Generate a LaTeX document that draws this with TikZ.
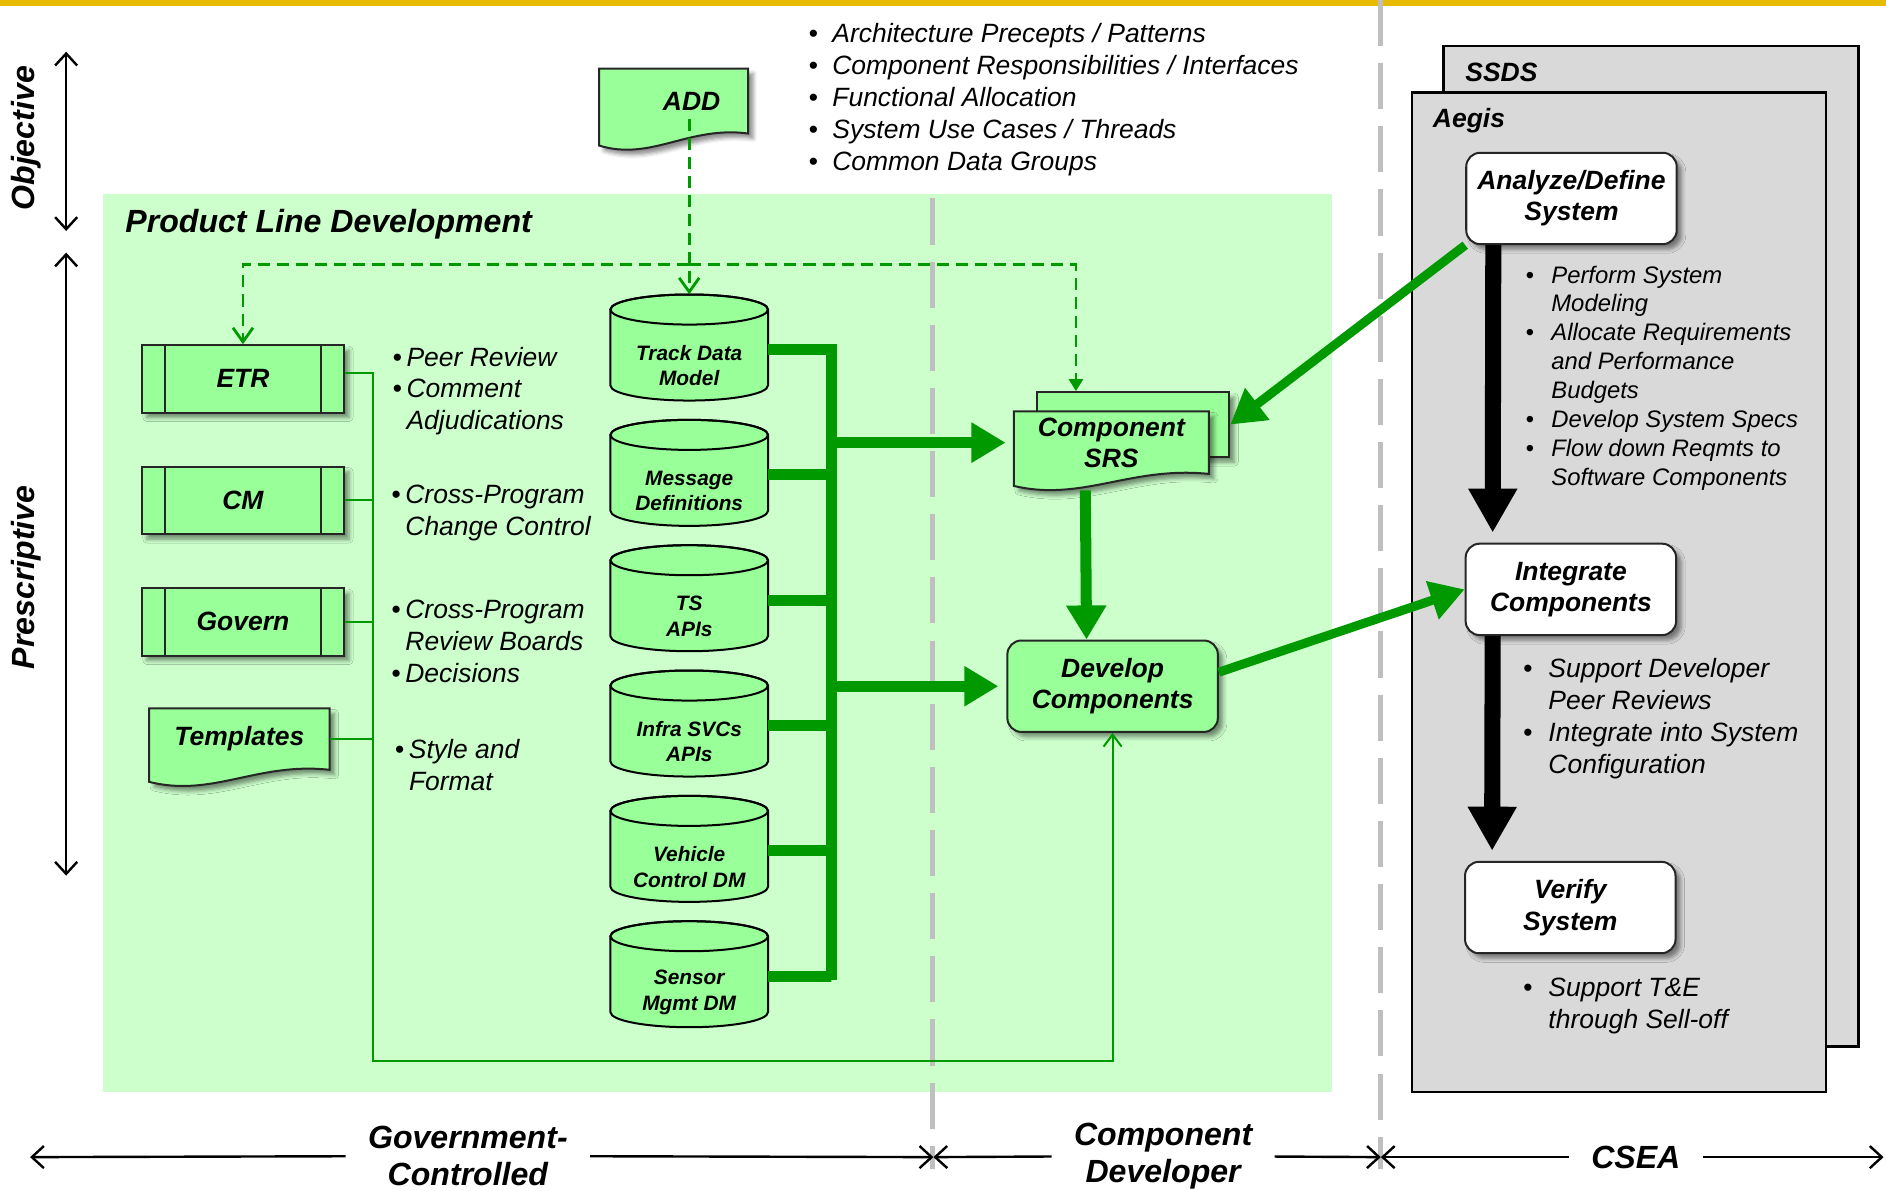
\documentclass[tikz,border=0pt]{standalone}
\usepackage{fontspec}
\setmainfont{Liberation Sans}
\usetikzlibrary{arrows.meta,calc,shadows.blur}

\definecolor{panelgreen}{HTML}{CCFFCC}
\definecolor{nodegreen}{HTML}{99FF99}
\definecolor{linkgreen}{HTML}{009900}
\definecolor{panelgray}{HTML}{D9D9D9}
\definecolor{divgray}{HTML}{BFBFBF}
\definecolor{baryellow}{HTML}{E6BB00}

\newcommand{\boxfont}{\fontsize{13.2}{15.6}\selectfont\bfseries\itshape}
\newcommand{\drumfont}{\fontsize{10.4}{12.6}\selectfont\bfseries\itshape}
\newcommand{\notefont}{\fontsize{13.2}{15.9}\selectfont\itshape}
\newcommand{\smallnotefont}{\fontsize{11.9}{14.4}\selectfont\itshape}
\newcommand{\headfont}{\fontsize{16}{18.6}\selectfont\bfseries\itshape}

% document outline with a wavy foot: left, top, right, foot at the right
\newcommand{\docshape}[4]{%
  \filldraw[docline] (#1,#2) -- (#3,#2) -- (#3,#4)
    .. controls ($(#1,#4)!0.6!(#3,#4)+(0,4pt)$)
    and ($(#1,#4)!0.35!(#3,#4)+(0,-14pt)$)
    .. ($(#1,#4)+(0,-6pt)$) -- cycle;}

% data store drum round the centre of its label
\newcommand{\drumat}[1]{%
  \filldraw[drumline] ($#1+(-39.3pt,28pt)$) -- ++(0,-37.9pt)
    arc[start angle=180,end angle=360,x radius=39.3pt,y radius=7.5pt]
    -- ++(0,37.9pt)
    arc[start angle=0,end angle=180,x radius=39.3pt,y radius=7.5pt] -- cycle;
  \draw[drumline,fill=none] ($#1+(0,28pt)$) ellipse[x radius=39.3pt,y radius=7.5pt];}

\begin{document}
\begin{tikzpicture}[x=0.6pt,y=-0.6pt,
  >={Straight Barb[length=6pt,width=11pt]},
  boxshadow/.style={blur shadow={shadow xshift=2.5pt,shadow yshift=-2.5pt,shadow blur radius=2pt,shadow opacity=45}},
  procbox/.style={draw=black!85,line width=1pt,fill=nodegreen,minimum width=100.8pt,minimum height=33.6pt,font=\boxfont,boxshadow},
  stepbox/.style={draw=black!85,line width=1pt,fill=white,rounded corners=7pt,minimum width=105pt,minimum height=45.6pt,align=center,font=\boxfont,boxshadow},
  docnode/.style={inner sep=0pt,font=\boxfont},
  docline/.style={draw=black!85,line width=1pt,fill=nodegreen,boxshadow},
  drumnode/.style={minimum width=78.6pt,minimum height=34.8pt,inner sep=0pt,align=center,font=\drumfont},
  drumline/.style={draw=black,line width=1pt,fill=nodegreen},
  notes/.style={anchor=north west,inner sep=0pt,font=\notefont},
  title/.style={anchor=west,inner sep=0pt},
  bus/.style={linkgreen,line width=5.5pt},
  busarrow/.style={bus,-{Triangle[width=19pt,length=17pt]}},
  feed/.style={linkgreen,line width=4.5pt,-{Triangle[width=19pt,length=17pt]}},
  flow/.style={black,line width=8pt,-{Triangle[width=23pt,length=22pt]}},
  dashlink/.style={linkgreen,line width=1.4pt,dash pattern=on 6pt off 3.5pt},
  tree/.style={linkgreen,line width=1pt},
  axisline/.style={line width=1.2pt},
  divider/.style={divgray,line width=2.5pt,dash pattern=on 23pt off 8.5pt},
  sysbox/.style={draw=black,line width=1.2pt,fill=panelgray},
  axislbl/.style={font=\headfont,align=center,inner xsep=11pt}
]
\useasboundingbox (0,0) rectangle (1568,990);

% Backdrops
\fill[baryellow] (0,0) rectangle (1568,5);
\fill[panelgreen] (86,161) rectangle (1107,908);
\filldraw[sysbox] (1200,38) rectangle (1545,870);
\filldraw[sysbox] (1174,77) rectangle (1518,908);
\draw[divider] (775,165) -- (775,972);
\draw[divider] (1148,0) -- (1148,972);

% Side scales
\coordinate (objA) at (55,43);
\coordinate (objB) at (55,192);
\coordinate (preA) at (55,210);
\coordinate (preB) at (55,728);
\draw[axisline,<->] (objA) -- (objB);
\draw[axisline,<->] (preA) -- (preB);
\node[rotate=90,font=\headfont] (objlbl) at (22,115) {Objective};
\node[rotate=90,font=\headfont] (prelbl) at (22,480) {Prescriptive};

\node[title,font=\headfont] (pld) at (104,186) {Product Line Development};

% ADD and its contents
\docshape{498}{57}{622}{111}
\node[docnode,minimum width=74.4pt,minimum height=32.4pt] (add) at (560,84) {\hspace*{18pt}ADD};
\node[notes] (addbul) at (672,16.5) {\begin{tabular}{@{}l@{\hspace{7.2pt}}l@{}}
•&Architecture Precepts / Patterns\\
•&Component Responsibilities / Interfaces\\
•&Functional Allocation\\
•&System Use Cases / Threads\\
•&Common Data Groups
\end{tabular}};

% Process boxes
\node[procbox] (etr) at (202,315) {ETR};
\node[procbox] (cm) at (202,416) {CM};
\node[procbox] (gov) at (202,517) {Govern};
\foreach \n in {etr,cm,gov} {
  \draw[line width=1pt,black!85] ([xshift=12pt]\n.north west) -- ([xshift=12pt]\n.south west);
  \draw[line width=1pt,black!85] ([xshift=-12pt]\n.north east) -- ([xshift=-12pt]\n.south east);
}
\docshape{124}{589}{274}{640}
\node[docnode,minimum width=90pt,minimum height=30.6pt] (tmpl) at (199,614.5) {Templates};

\node[notes] (etrnote) at (326,285.5) {\begin{tabular}{@{}l@{\hspace{2.4pt}}l@{}}
•&Peer Review\\ •&Comment\\ &Adjudications\end{tabular}};
\node[notes] (cmnote) at (325,399.5) {\begin{tabular}{@{}l@{\hspace{2.4pt}}l@{}}
•&Cross-Program\\ &Change Control\end{tabular}};
\node[notes] (govnote) at (325,495.5) {\begin{tabular}{@{}l@{\hspace{2.4pt}}l@{}}
•&Cross-Program\\ &Review Boards\\ •&Decisions\end{tabular}};
\node[notes] (tmplnote) at (328,611.5) {\begin{tabular}{@{}l@{\hspace{2.4pt}}l@{}}
•&Style and\\ &Format\end{tabular}};

% Data stores
\foreach \n/\lbl [count=\i from 0] in {track/Track Data\\Model, msg/Message\\Definitions,
    ts/TS\\APIs, infra/Infra SVCs\\APIs, veh/Vehicle\\Control DM, sensor/Sensor\\Mgmt DM} {
  \drumat{(573,304+104.2*\i)}
  \node[drumnode] (\n) at (573,304+104.2*\i) {\lbl};
}

% Component developer side
\node[draw=black!85,line width=1pt,fill=nodegreen,minimum width=96pt,minimum height=32.4pt,boxshadow] (srsb) at (942,353) {};
\docshape{843}{342}{1005}{394}
\node[docnode,align=center,minimum width=97.2pt,minimum height=31.2pt] (srs) at (924,368) {Component\\SRS};
\node[stepbox,fill=nodegreen] (dev) at (925,570.5) {Develop\\Components};

% CSEA side
\node[title,font=\boxfont] (ssds) at (1218,60) {SSDS};
\node[title,font=\boxfont] (aegis) at (1191,100) {Aegis};
\node[stepbox] (ana) at (1306.5,165) {Analyze/Define\\System};
\node[stepbox] (int) at (1306,490) {Integrate\\Components};
\node[stepbox] (ver) at (1305.5,754.5) {Verify\\System};
\node[notes,font=\smallnotefont] (anabul) at (1268,218.2) {\begin{tabular}{@{}l@{\hspace{8.7pt}}l@{}}
•&Perform System\\ &Modeling\\ •&Allocate Requirements\\ &and Performance\\ &Budgets\\
•&Develop System Specs\\ •&Flow down Reqmts to\\ &Software Components\end{tabular}};
\node[notes] (intbul) at (1266,544.4) {\begin{tabular}{@{}l@{\hspace{8pt}}l@{}}
•&Support Developer\\ &Peer Reviews\\ •&Integrate into System\\ &Configuration\end{tabular}};
\node[notes] (verbul) at (1266,809.4) {\begin{tabular}{@{}l@{\hspace{8pt}}l@{}}
•&Support T\&E\\ &through Sell-off\end{tabular}};

% ADD distribution
\coordinate (split) at (573,220);
\draw[dashlink,-{Straight Barb[length=7pt,width=10pt]}] ($(add.center -| track.north)+(0,-9pt)$) -- ([yshift=18pt]track.north);
\draw[dashlink,-{Straight Barb[length=7pt,width=10pt]}] (split) -| (etr.north);
\draw[dashlink,-{Triangle[length=6pt,width=7pt]}] (split) -| ([xshift=20pt]srsb.north west);

% Common data bus
\coordinate (bustop) at (691,289);
\coordinate (busbot) at (691,815);
\draw[bus] ([yshift=8pt]track.east) -| (busbot);
\foreach \n in {msg,ts,infra,veh,sensor}
  \draw[bus] ([yshift=8pt]\n.east) -| (busbot);
\draw[busarrow,shorten >=4pt] (srs.west -| bustop) -- (srs.west);
\draw[busarrow,shorten >=4pt] (dev.west -| bustop) -- (dev.west);
\draw[busarrow] ([xshift=-13pt,yshift=-8pt]srs.south) -- ([xshift=-13pt]dev.north);

% Process feed
\coordinate (trunkbot) at (310,882);
\draw[tree,-{Straight Barb[length=6pt,width=9pt]}] ([yshift=3pt]etr.east) -| (trunkbot) -| (dev.south);
\foreach \n in {cm,gov,tmpl}
  \draw[tree] (\n.east) -| (trunkbot);

% Links to the system side
\draw[feed] (ana.south west) -- (srsb.east);
\draw[feed] ([yshift=7pt]dev.east) -- (int.west);
\draw[flow] ([xshift=14pt]ana.south west) -- ([xshift=14pt,yshift=5pt]int.north west);
\draw[flow] ([xshift=14pt]int.south west) -- ([xshift=14pt,yshift=5pt]ver.north west);

% Bottom scale
\coordinate (axA) at (25,962);
\coordinate (axB) at (776,962);
\coordinate (axC) at (1148,962);
\coordinate (axD) at (1566,962);
\node[axislbl] (govlbl) at (389,961) {Government-\\Controlled};
\node[axislbl] (devlbl) at (967,961) {Component\\Developer};
\node[axislbl] (csealbl) at (1360,962) {CSEA};
\draw[axisline,<-] (axA) -- (govlbl);
\draw[axisline,->] (govlbl) -- (axB);
\draw[axisline,<-] (axB) -- (devlbl);
\draw[axisline,->] (devlbl) -- (axC);
\draw[axisline,<-] (axC) -- (csealbl);
\draw[axisline,->] (csealbl) -- (axD);

\end{tikzpicture}
\end{document}
